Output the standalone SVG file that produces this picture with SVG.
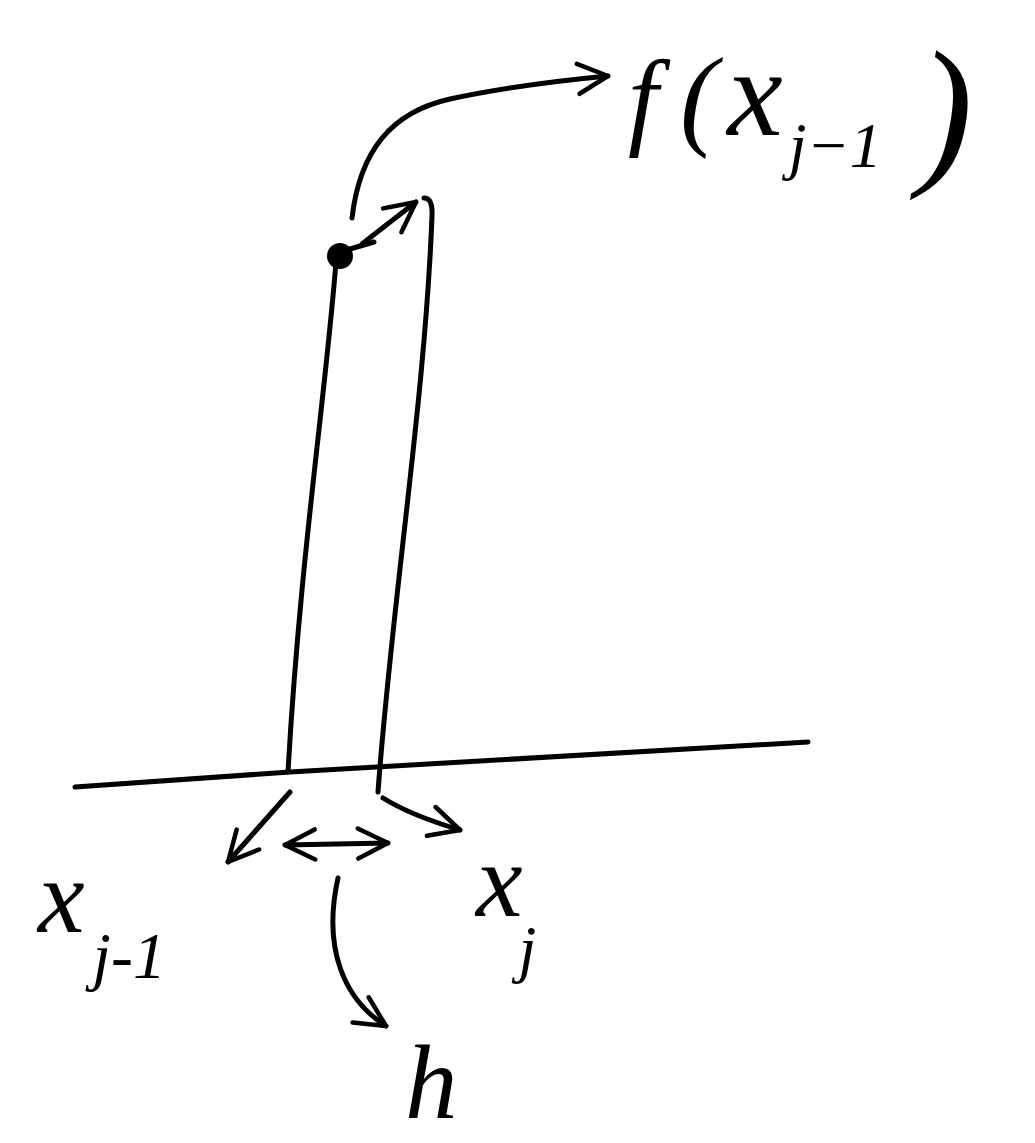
<svg xmlns="http://www.w3.org/2000/svg" width="1035" height="1143" viewBox="0 0 1035 1143">
<style>
.s{fill:none;stroke:#000;stroke-width:5;stroke-linecap:round;stroke-linejoin:round}
.t{font-family:"Liberation Serif","DejaVu Serif",serif;font-style:italic;fill:#000}
</style>
<defs>
<marker id="arr" viewBox="0 0 10 10" refX="9" refY="5" markerWidth="7.5" markerHeight="7.5" orient="auto-start-reverse" markerUnits="strokeWidth">
<path d="M1,1 L9,5 L1,9" fill="none" stroke="#000" stroke-width="1.2" stroke-linecap="round" stroke-linejoin="round"/>
</marker>
</defs>
<rect width="1035" height="1143" fill="#fff"/>
<g id="connectors">
<path class="s" d="M75,787 L290,772 Q550,758 808,742"/>
<path class="s" d="M336,262 C325,400 300,560 288,772"/>
<path class="s" d="M424,198 Q433,198 432,216 C425,400 392,600 378,792"/>
<path class="s" d="M352,218 C360,150 392,112 450,99 C500,88 545,82 608,76" marker-end="url(#arr)"/>
<path class="s" d="M350,249 L374,242"/>
<path class="s" d="M362,244 Q390,222 416,202" marker-end="url(#arr)"/>
<path class="s" d="M290,792 L228,862" marker-end="url(#arr)"/>
<path class="s" d="M285,845 L388,843" marker-start="url(#arr)" marker-end="url(#arr)"/>
<path class="s" d="M383,798 Q410,815 460,830" marker-end="url(#arr)"/>
<path class="s" d="M338,878 C322,950 345,1000 386,1026" marker-end="url(#arr)"/>
</g>
<g id="point"><circle cx="340" cy="256" r="13" fill="#000"/></g>
<g id="label-f">
<text class="t" x="628" y="135" font-size="108">f<tspan dx="22" font-size="112">(</tspan><tspan dx="10" font-size="125">x</tspan><tspan dx="6" dy="32" font-size="64">j−1</tspan><tspan dx="36" dy="-2" font-size="165">)</tspan></text>
</g>
<g id="label-xj1">
<text class="t" x="38" y="932" font-size="105">x<tspan dx="8" dy="46" font-size="66">j-1</tspan></text>
</g>
<g id="label-xj">
<text class="t" x="476" y="916" font-size="105">x<tspan dx="-4" dy="54" font-size="64">j</tspan></text>
</g>
<g id="label-h">
<text class="t" x="405" y="1118" font-size="105">h</text>
</g>
</svg>
